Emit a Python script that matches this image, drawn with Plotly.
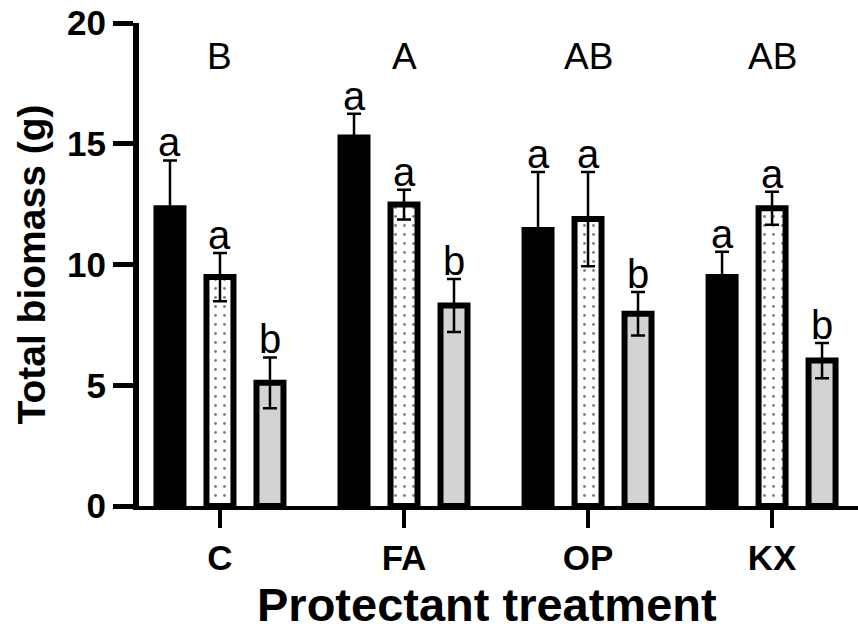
import plotly.graph_objects as go

categories = ["C", "FA", "OP", "KX"]

# series values (means) and errors (SEM)
black_vals = [12.33, 15.26, 11.43, 9.48]
black_err = [1.98, 0.98, 2.4, 1.05]
dotted_vals = [9.48, 12.48, 11.88, 12.33]
dotted_err = [1.0, 0.62, 1.95, 0.68]
gray_vals = [5.1, 8.3, 7.96, 6.02]
gray_err = [1.05, 1.1, 0.9, 0.73]

black_letters = ["a", "a", "a", "a"]
dotted_letters = ["a", "a", "a", "a"]
gray_letters = ["b", "b", "b", "b"]
group_letters = ["B", "A", "AB", "AB"]
group_letter_y = 18.6

y_ticks = [0, 5, 10, 15, 20]

FONT = "Liberation Sans, Arial, sans-serif"

fig = go.Figure()

err_style = dict(type="data", visible=True, color="black", thickness=2.5, width=7)

fig.add_trace(go.Bar(
    x=categories, y=black_vals, name="Series 1",
    marker=dict(color="black", line=dict(color="black", width=6)),
    error_y=dict(array=black_err, **err_style),
))
fig.add_trace(go.Bar(
    x=categories, y=dotted_vals, name="Series 2",
    marker=dict(color="white", line=dict(color="black", width=6),
                pattern=dict(shape=".", fgcolor="black", bgcolor="white",
                             size=9, solidity=0.08)),
    error_y=dict(array=dotted_err, **err_style),
))
fig.add_trace(go.Bar(
    x=categories, y=gray_vals, name="Series 3",
    marker=dict(color="#d3d3d3", line=dict(color="black", width=6)),
    error_y=dict(array=gray_err, **err_style),
))

annotations = []
series = [(black_vals, black_err, black_letters, -50),
          (dotted_vals, dotted_err, dotted_letters, 0),
          (gray_vals, gray_err, gray_letters, 50)]
for vals, errs, letters, shift in series:
    for c, v, e, t in zip(categories, vals, errs, letters):
        annotations.append(dict(
            x=c, y=v + e, text=t, showarrow=False, xref="x", yref="y",
            xanchor="center", yanchor="bottom", xshift=shift, yshift=-6,
            font=dict(family=FONT, size=40, color="black")))
for c, t in zip(categories, group_letters):
    annotations.append(dict(
        x=c, y=group_letter_y, text=t, showarrow=False, xref="x", yref="y",
        xanchor="center", yanchor="middle",
        font=dict(family=FONT, size=37, color="black")))

# x-axis title (placed as an annotation so it can sit slightly left of centre)
annotations.append(dict(
    x=0.484, y=0, xref="paper", yref="paper", yshift=-98,
    text="<b>Protectant treatment</b>", showarrow=False,
    xanchor="center", yanchor="middle",
    font=dict(family=FONT, size=47, color="black")))

fig.update_layout(
    width=858, height=631,
    margin=dict(l=139, r=0, t=23, b=125, autoexpand=False),
    paper_bgcolor="white", plot_bgcolor="white",
    barmode="group", bargap=0.185, bargroupgap=0.46,
    showlegend=False,
    font=dict(family=FONT, color="black"),
    annotations=annotations,
    xaxis=dict(
        range=[-0.44, 3.467], showline=True, linecolor="black", linewidth=4,
        ticks="outside", ticklen=18, tickwidth=4, tickcolor="black",
        showgrid=False, zeroline=False,
        tickfont=dict(family=FONT, size=35, color="black", weight="bold"),
    ),
    yaxis=dict(
        range=[0, 20], showline=True, linecolor="black", linewidth=6,
        tickvals=y_ticks, ticks="outside", ticklen=20, tickwidth=5,
        tickcolor="black", showgrid=False, zeroline=False,
        tickfont=dict(family=FONT, size=35, color="black", weight="bold"),
        title=dict(text="<b>Total biomass (g)</b>", standoff=11,
                   font=dict(family=FONT, size=39, color="black")),
    ),
)

fig.write_html("out.html", config={"displayModeBar": False},
               post_script="document.body.style.margin='0';document.body.style.overflow='hidden';")
